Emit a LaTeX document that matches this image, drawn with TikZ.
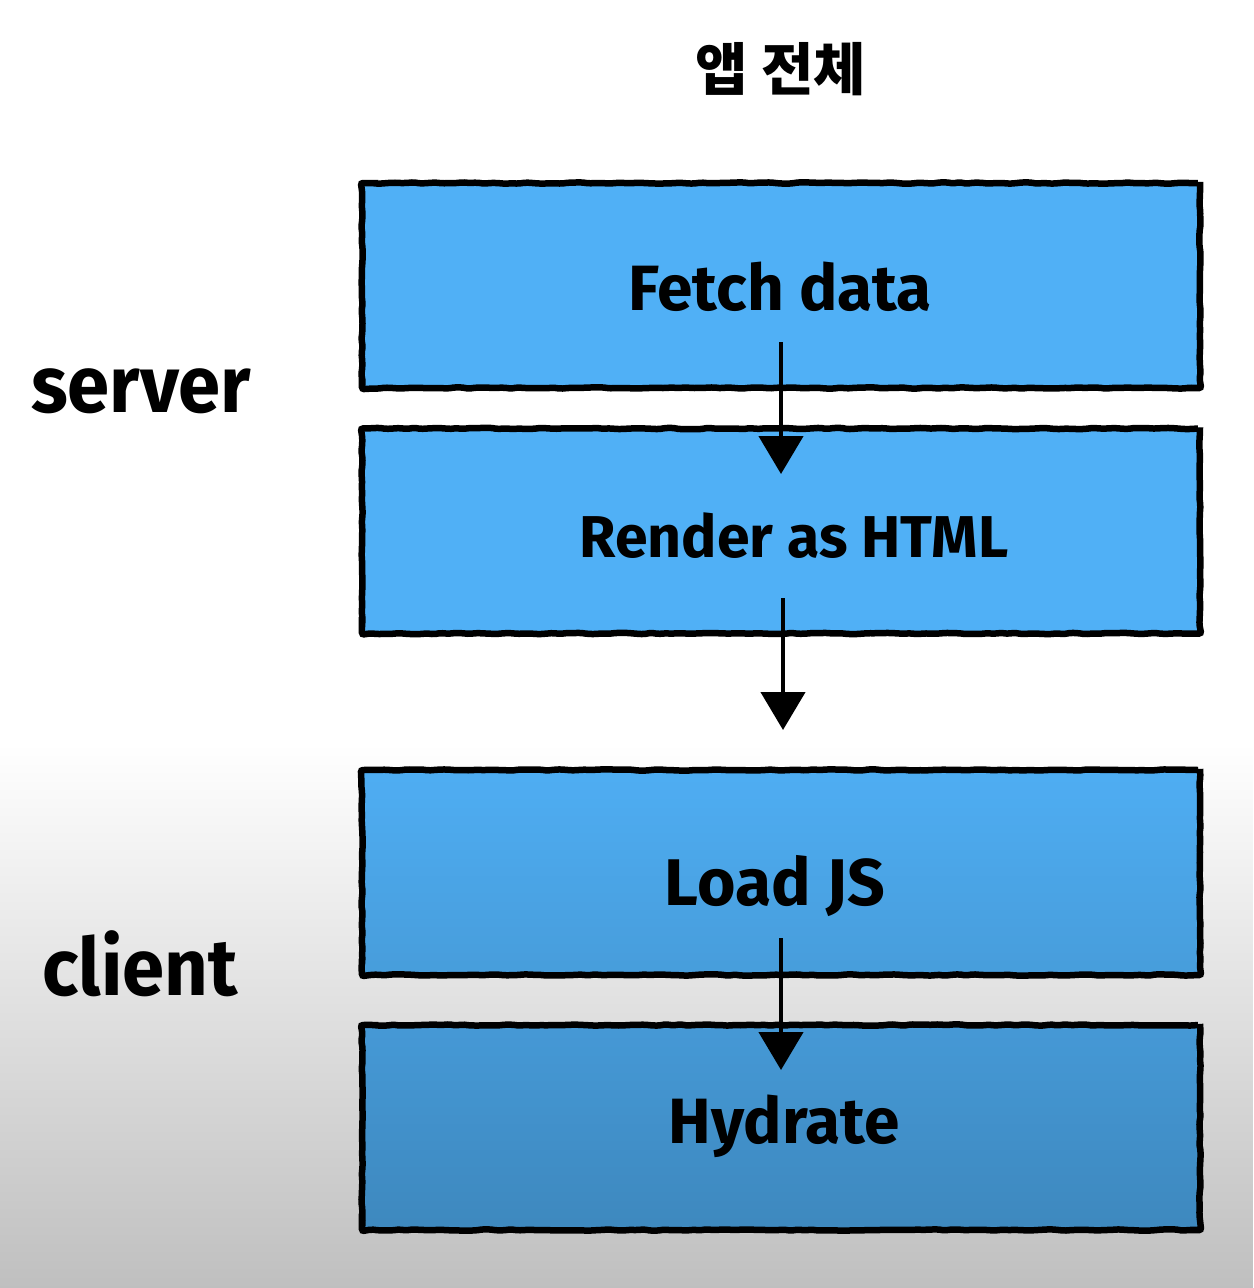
\documentclass[tikz,border=0pt]{standalone}
\usepackage{fontspec}
\usetikzlibrary{arrows.meta,decorations.pathmorphing,fadings}
\newfontfamily\lab{Fira Sans}
\newfontfamily\labside{Fira Sans}[FakeStretch=0.95]
\newfontfamily\kr{Noto Sans CJK KR}
\tikzfading[name=fadedown, top color=transparent!100, bottom color=transparent!0]
\definecolor{boxblue}{HTML}{50B0F6}
\begin{document}
\begin{tikzpicture}[x=1bp,y=-1bp,
  stepbox/.style={draw=black, fill=boxblue, line width=6.5bp, rounded corners=2bp,
    minimum width=838bp, minimum height=205bp, inner sep=0pt,
    decorate, decoration={random steps, segment length=7bp, amplitude=0.7bp}},
  flowarrow/.style={line width=4.5bp, draw=black,
    -{Triangle[width=44bp,length=38bp]}},
  boxtext/.style={font=\lab\bfseries\fontsize{64bp}{64bp}\selectfont, anchor=base, inner sep=0pt},
  sidetext/.style={font=\labside\bfseries\fontsize{80bp}{80bp}\selectfont, anchor=base, inner sep=0pt}]
\pgfmathsetseed{7}
\useasboundingbox (0,0) rectangle (1254,1288);
\fill[white] (0,0) rectangle (1254,1288);

% boxes
\node[stepbox] (fetch) at (781,285.5) {};
\node[stepbox] (render) at (781,531) {};
\node[stepbox] (load) at (781,872.5) {};
\node[stepbox] (hydrate) at (781,1127.5) {};

% texts
\node[boxtext] (tfetch) at (780,310) {Fetch data};
\node[boxtext, font=\lab\bfseries\fontsize{59bp}{59bp}\selectfont] (trender) at (794,557) {Render as HTML};
\node[boxtext, font=\lab\bfseries\fontsize{66bp}{66bp}\selectfont] (tload) at (775,905) {Load JS};
\node[boxtext] (thydrate) at (784,1143) {Hydrate};
\node[sidetext] (tserver) at (141,412) {server};
\node[sidetext] (tclient) at (140,995) {client};
\node[font=\kr\bfseries\fontsize{57bp}{57bp}\selectfont, inner sep=0pt] (ttitle) at (781,69) {앱 전체};

% arrows
\coordinate (a1s) at (781,342);
\coordinate (a1e) at (781,474);
\coordinate (a2s) at (783,598);
\coordinate (a2e) at (783,730);
\coordinate (a3s) at (781,938);
\coordinate (a3e) at (781,1070);
\draw[flowarrow] (a1s) -- (a1e);
\draw[flowarrow] (a2s) -- (a2e);
\draw[flowarrow] (a3s) -- (a3e);

% shading overlay
\fill[black, opacity=0.25, path fading=fadedown] (0,745) rectangle (1254,1288);
\end{tikzpicture}
\end{document}
